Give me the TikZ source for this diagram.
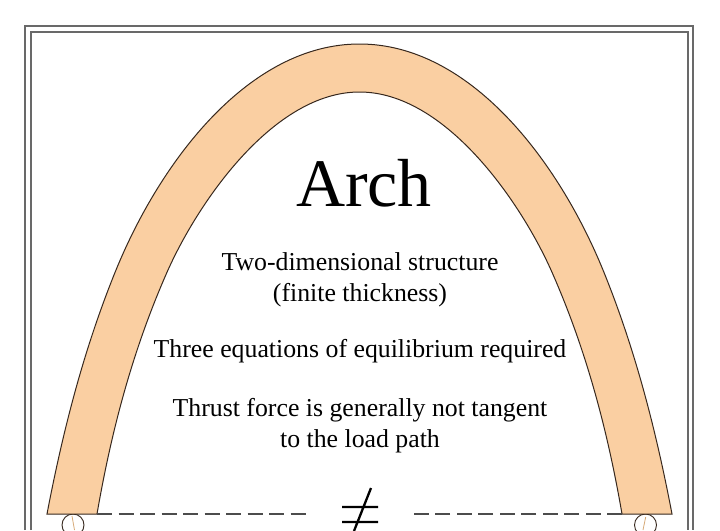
\documentclass[tikz,border=0pt]{standalone}
\usepackage{fontspec}
\setmainfont{Liberation Serif}
\definecolor{archfill}{RGB}{250,207,162}
\definecolor{framecol}{RGB}{105,105,105}
\definecolor{inkcol}{RGB}{55,40,30}
\definecolor{tancol}{RGB}{215,170,120}
\tikzset{
  frameline/.style={draw=framecol,line width=1.2pt},
  archline/.style={draw=inkcol,line width=1pt,fill=archfill},
  basedash/.style={draw=black!70,line width=1.1pt,dash pattern=on 15pt off 6.5pt},
  txt/.style={font=\fontsize{25.8pt}{31pt}\selectfont,align=center,inner sep=0pt},
}
\begin{document}
\begin{tikzpicture}[x=1pt,y=-1pt]
\useasboundingbox (0,0) rectangle (720,530);
\fill[white] (0,0) rectangle (720,530);
\coordinate (IL) at (97,514); \coordinate (IR) at (622,514);
\coordinate (DL) at (306,514); \coordinate (DR) at (413.5,514);
\draw[frameline] (25,530) -- (25,26) -- (693,26) -- (693,530);
\draw[frameline] (31,530) -- (31,32) -- (688,32) -- (688,530);
\draw[draw=inkcol,line width=0.9pt,fill=white] (73,525) circle (11);
\draw[draw=inkcol,line width=0.9pt,fill=white] (645.5,525) circle (11);
\draw[tancol,line width=0.8pt] (72,516) -- (74.5,530);
\draw[tancol,line width=0.8pt] (645.7,517) -- (643,530);
\path[archline] (47,514) .. controls (62.5,433) and (83,351) .. (116,270)
  .. controls (161,160) and (249.5,44) .. (359.5,44)
  .. controls (469.5,44) and (558,160) .. (603,270)
  .. controls (636,351) and (656.5,433) .. (672,514)
  -- (IR) .. controls (608,433) and (587,351) .. (551,270)
  .. controls (519.5,200) and (444.5,92) .. (359.5,92)
  .. controls (274.5,92) and (199.5,200) .. (168,270)
  .. controls (132,351) and (111,433) .. (IL) -- cycle;
\draw[basedash] (IL) -- (DL);
\draw[basedash] (IR) -- (DR);
\node[inner sep=0pt,font=\fontsize{68pt}{70pt}\selectfont] (title) at (364,183) {Arch};
\node[txt] (a) at (360,280) {Two-dimensional structure\\(finite thickness)};
\node[txt] (b) at (360,351) {Three equations of equilibrium required};
\node[txt] (c) at (360,425.5) {Thrust force is generally not tangent\\to the load path};
\coordinate (n1) at (342,507); \coordinate (n2) at (378,507);
\coordinate (n3) at (342,522); \coordinate (n4) at (378,522);
\coordinate (n5) at (371,488); \coordinate (n6) at (354,531);
\draw[line width=2.3pt] (n1) -- (n2) (n3) -- (n4) (n5) -- (n6);
\end{tikzpicture}
\end{document}
